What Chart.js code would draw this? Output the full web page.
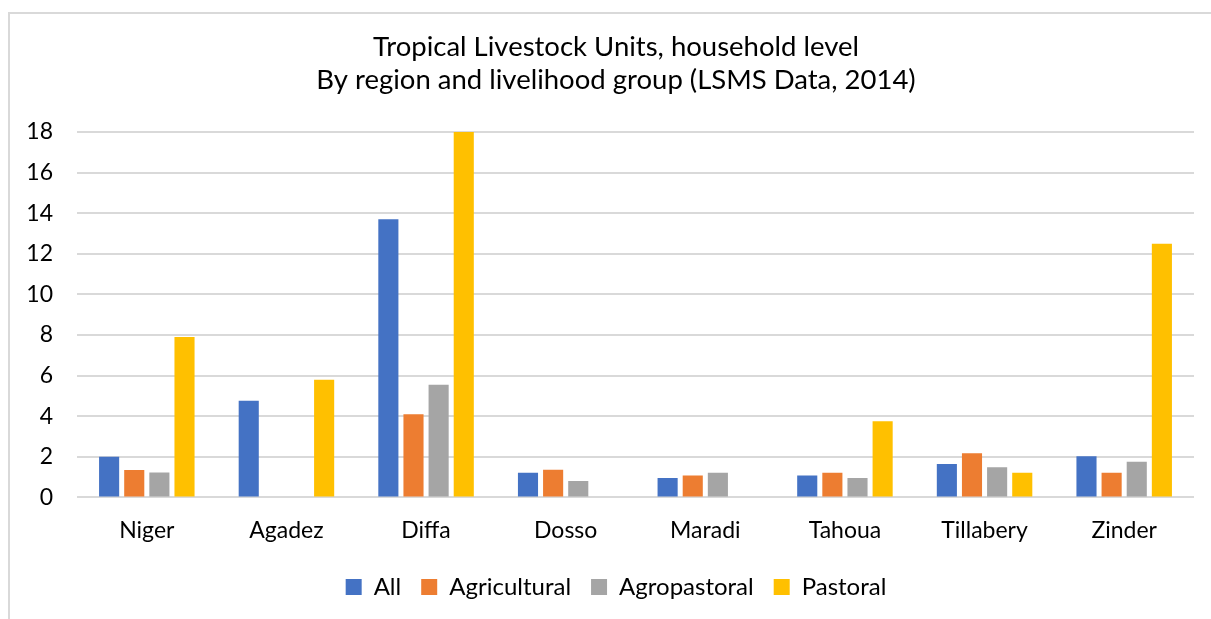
<!DOCTYPE html>
<html>
<head>
<meta charset="utf-8">
<script src="https://cdn.jsdelivr.net/npm/chart.js@4"></script>
<style>
  html, body { margin: 0; padding: 0; background: #fff; overflow: hidden; }
  #frame {
    position: absolute; left: 8px; top: 12px;
    width: 1300px; height: 700px;
    border: 2px solid #d9d9d9;
  }
  #wrap { position: absolute; left: 0; top: 0; width: 1211px; height: 619px; }
</style>
</head>
<body>
<div id="frame"></div>
<div id="wrap"><canvas id="chart"></canvas></div>
<script>
const regions = ['Niger', 'Agadez', 'Diffa', 'Dosso', 'Maradi', 'Tahoua', 'Tillabery', 'Zinder'];
const allHh = [2.0, 4.76, 13.7, 1.22, 0.95, 1.08, 1.64, 2.03];
const agricultural = [1.35, null, 4.1, 1.36, 1.08, 1.22, 2.17, 1.22];
const agropastoral = [1.23, null, 5.55, 0.81, 1.22, 0.95, 1.49, 1.76];
const pastoral = [7.9, 5.8, 18.0, null, null, 3.75, 1.22, 12.5];
const yTicks = [0, 2, 4, 6, 8, 10, 12, 14, 16, 18];

const font = 'Lato, "Open Sans", sans-serif';

// une série de barres
const series = (label, data, color) => ({
  label,
  data,
  backgroundColor: color,
  borderWidth: 0,
  categoryPercentage: 0.72,
  barPercentage: 0.8,
});

new Chart(document.getElementById('chart'), {
  type: 'bar',
  data: {
    labels: regions,
    datasets: [
      series('All', allHh, '#4472C4'),
      series('Agricultural', agricultural, '#ED7D31'),
      series('Agropastoral', agropastoral, '#A5A5A5'),
      series('Pastoral', pastoral, '#FFC000'),
    ],
  },
  options: {
    responsive: true,
    maintainAspectRatio: false,
    animation: false,
    layout: { padding: { left: 21, right: 0, top: 18, bottom: 10 } },
    scales: {
      x: {
        grid: { display: false },
        border: { display: false },
        ticks: { color: '#000', font: { family: font, size: 23 }, padding: 11 },
      },
      y: {
        min: 0,
        max: 18,
        afterBuildTicks: (axis) => { axis.ticks = yTicks.map((v) => ({ value: v })); },
        afterFit: (axis) => { axis.width = 56; },
        grid: { color: '#d9d9d9', lineWidth: 2, drawTicks: false },
        border: { display: false },
        ticks: { color: '#000', font: { family: font, size: 23 }, padding: 24 },
      },
      // marge droite vide
      yRight: {
        position: 'right',
        display: true,
        afterFit: (axis) => { axis.width = 17; },
        grid: { display: false },
        border: { display: false },
        ticks: { display: false },
      },
    },
    plugins: {
      title: {
        display: true,
        text: ['Tropical Livestock Units, household level', 'By region and livelihood group (LSMS Data, 2014)'],
        color: '#000',
        font: { family: font, size: 27.5, weight: 'normal', lineHeight: 1.2 },
        padding: { top: 13, bottom: 35 },
      },
      legend: {
        position: 'bottom',
        labels: {
          color: '#000',
          font: { family: font, size: 24 },
          boxWidth: 16,
          boxHeight: 16,
          padding: 20,
        },
      },
      tooltip: { enabled: false },
    },
  },
});
</script>
</body>
</html>
